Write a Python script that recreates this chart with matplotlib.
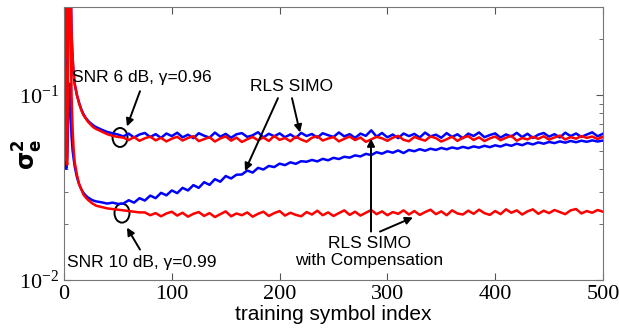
import matplotlib
matplotlib.use('Agg')
import matplotlib.pyplot as plt
import matplotlib.transforms as mtransforms
from matplotlib.patches import Ellipse
from matplotlib.ticker import LogLocator, NullFormatter

# eixo de símbolos de treino
x_idx = [0, 1, 2, 3, 4, 5, 6, 7, 8, 9, 10, 12, 14, 16, 18, 20, 22, 24, 26, 28, 30,
         35, 40, 45, 50, 55, 60, 65, 70, 75, 80, 85, 90, 95, 100,
         105, 110, 115, 120, 125, 130, 135, 140, 145, 150, 155, 160, 165, 170, 175, 180,
         185, 190, 195, 200, 205, 210, 215, 220, 225, 230, 235, 240, 245, 250,
         255, 260, 265, 270, 275, 280, 285, 290, 295, 300, 305, 310, 315, 320, 325, 330,
         335, 340, 345, 350, 355, 360, 365, 370, 375, 380, 385, 390, 395, 400,
         405, 410, 415, 420, 425, 430, 435, 440, 445, 450, 455, 460, 465, 470, 475, 480,
         485, 490, 495, 500]

# SNR 6 dB - RLS SIMO (azul)
snr6_simo = [1.8, 0.5, 0.14, 0.18, 0.5, 1.2, 0.45, 0.21, 0.155, 0.128, 0.114,
             0.100, 0.091, 0.084, 0.079, 0.0755, 0.073, 0.071, 0.0695, 0.068, 0.067,
             0.065, 0.0632, 0.0622, 0.0612,
             0.0598, 0.0619, 0.0590, 0.0612, 0.0624, 0.0593, 0.0615, 0.0587, 0.0620, 0.0600,
             0.0626, 0.0591, 0.0611, 0.0585, 0.0622, 0.0603, 0.0589, 0.0627, 0.0596, 0.0617,
             0.0588, 0.0614, 0.0623, 0.0594, 0.0606, 0.0630, 0.0590, 0.0618, 0.0599, 0.0621,
             0.0592, 0.0613, 0.0586, 0.0625, 0.0601, 0.0616, 0.0589, 0.0622, 0.0607, 0.0594,
             0.0628, 0.0598, 0.0615, 0.0587, 0.0619, 0.0602, 0.0645, 0.0596, 0.0624, 0.0591,
             0.0612, 0.0585, 0.0620, 0.0600, 0.0617, 0.0590, 0.0627, 0.0598, 0.0611, 0.0588,
             0.0623, 0.0594, 0.0614, 0.0584, 0.0619, 0.0601, 0.0628, 0.0592, 0.0608, 0.0621,
             0.0589, 0.0613, 0.0597, 0.0625, 0.0593, 0.0618, 0.0586, 0.0611, 0.0624, 0.0596,
             0.0615, 0.0590, 0.0626, 0.0600, 0.0620, 0.0594, 0.0612, 0.0629, 0.0599, 0.0618]

# SNR 6 dB - RLS SIMO com compensação (vermelho)
snr6_comp = [2.0, 0.6, 0.16, 0.2, 0.6, 1.5, 0.5, 0.22, 0.16, 0.13, 0.115,
             0.100, 0.090, 0.083, 0.078, 0.075, 0.072, 0.070, 0.068, 0.0665, 0.0655,
             0.0635, 0.0615, 0.0602, 0.0594,
             0.0589, 0.0571, 0.0593, 0.0566, 0.0584, 0.0597, 0.0569, 0.0587, 0.0562, 0.0581,
             0.0595, 0.0568, 0.0586, 0.0600, 0.0564, 0.0578, 0.0592, 0.0561, 0.0583, 0.0598,
             0.0567, 0.0589, 0.0558, 0.0577, 0.0594, 0.0570, 0.0590, 0.0565, 0.0601, 0.0573,
             0.0586, 0.0563, 0.0596, 0.0575, 0.0560, 0.0588, 0.0599, 0.0568, 0.0582, 0.0593,
             0.0562, 0.0580, 0.0597, 0.0571, 0.0590, 0.0559, 0.0576, 0.0595, 0.0584, 0.0566,
             0.0588, 0.0602, 0.0573, 0.0563, 0.0594, 0.0579, 0.0567, 0.0598, 0.0585, 0.0561,
             0.0577, 0.0596, 0.0565, 0.0589, 0.0600, 0.0572, 0.0591, 0.0564, 0.0583, 0.0597,
             0.0570, 0.0588, 0.0603, 0.0567, 0.0586, 0.0576, 0.0595, 0.0580, 0.0599, 0.0574,
             0.0590, 0.0604, 0.0575, 0.0593, 0.0581, 0.0601, 0.0587, 0.0597, 0.0579, 0.0594]

# SNR 10 dB - RLS SIMO (azul)
snr10_simo = [0.100, 0.060, 0.040, 0.046, 0.080, 0.115, 0.085, 0.060, 0.050, 0.045, 0.041,
              0.036, 0.033, 0.031, 0.0296, 0.0287, 0.0280, 0.0275, 0.0271, 0.0268, 0.0266,
              0.0263, 0.0259, 0.0262, 0.0258,
              0.0259, 0.0270, 0.0262, 0.0277, 0.0269, 0.0286, 0.0277, 0.0296, 0.0287, 0.0305,
              0.0295, 0.0315, 0.0305, 0.0326, 0.0315, 0.0338, 0.0327, 0.0351, 0.0340, 0.0365,
              0.0354, 0.0371, 0.0372, 0.0391, 0.0381, 0.0404, 0.0396, 0.0414, 0.0408, 0.0426,
              0.0418, 0.0433, 0.0425, 0.0439, 0.0436, 0.0446, 0.0438, 0.0452, 0.0444, 0.0458,
              0.0451, 0.0464, 0.0459, 0.0472, 0.0466, 0.0481, 0.0474, 0.0491, 0.0482, 0.0497,
              0.0488, 0.0502, 0.0486, 0.0505, 0.0497, 0.0510, 0.0500, 0.0513, 0.0505, 0.0518,
              0.0509, 0.0521, 0.0513, 0.0525, 0.0516, 0.0528, 0.0520, 0.0532, 0.0523, 0.0535,
              0.0527, 0.0541, 0.0532, 0.0546, 0.0536, 0.0551, 0.0541, 0.0555, 0.0546, 0.0558,
              0.0550, 0.0562, 0.0553, 0.0565, 0.0556, 0.0567, 0.0559, 0.0569, 0.0561, 0.0568]

# SNR 10 dB - RLS SIMO com compensação (vermelho)
snr10_comp = [1.5, 0.3, 0.045, 0.042, 0.2, 0.8, 0.3, 0.1, 0.065, 0.05, 0.043,
              0.037, 0.033, 0.031, 0.029, 0.028, 0.0272, 0.0266, 0.026, 0.0256, 0.0252,
              0.0248, 0.0244, 0.0242, 0.0240, 0.0238, 0.0236, 0.0234, 0.0232,
              0.0232, 0.0224, 0.0230, 0.0221, 0.0229, 0.0234, 0.0223, 0.0231, 0.0220, 0.0228,
              0.0233, 0.0222, 0.0230, 0.0219, 0.0227, 0.0235, 0.0221, 0.0229, 0.0224, 0.0232,
              0.0220, 0.0228, 0.0234, 0.0222, 0.0230, 0.0236, 0.0223, 0.0231, 0.0225, 0.0221,
              0.0233, 0.0226, 0.0237, 0.0224, 0.0232, 0.0222, 0.0230, 0.0238, 0.0225, 0.0234,
              0.0223, 0.0231, 0.0239, 0.0227, 0.0235, 0.0224, 0.0233, 0.0228, 0.0238, 0.0226,
              0.0236, 0.0225, 0.0233, 0.0240, 0.0227, 0.0235, 0.0224, 0.0238, 0.0229, 0.0226,
              0.0237, 0.0228, 0.0240, 0.0230, 0.0225, 0.0236, 0.0227, 0.0241, 0.0231, 0.0238,
              0.0226, 0.0235, 0.0241, 0.0228, 0.0237, 0.0230, 0.0239, 0.0233, 0.0227, 0.0238,
              0.0242, 0.0229, 0.0236, 0.0231, 0.0239, 0.0234]

x_ticks = [0, 100, 200, 300, 400, 500]

plt.rcParams['mathtext.fontset'] = 'dejavusans'

fig = plt.figure(figsize=(6.19, 3.29), dpi=100)
ax = fig.add_axes([0.1034, 0.149, 0.8707, 0.830])

ax.plot(x_idx, snr6_simo, color='#0000ff', lw=1.8)
ax.plot(x_idx, snr10_simo, color='#0000ff', lw=1.8)
ax.plot(x_idx, snr6_comp, color='#ff0000', lw=1.8)
ax.plot(x_idx, snr10_comp, color='#ff0000', lw=1.8)

ax.set_yscale('log')
ax.set_xlim(0, 500)
ax.set_ylim(0.01, 0.3)
ax.set_xticks(x_ticks)
ax.yaxis.set_minor_locator(LogLocator(base=10, subs=range(2, 10)))
ax.yaxis.set_minor_formatter(NullFormatter())

ax.tick_params(which='both', direction='in', top=True, right=True, colors='#555555')
ax.tick_params(which='major', length=5, labelsize=16, labelcolor='black')
ax.tick_params(which='minor', length=3)
for lab in ax.get_xticklabels() + ax.get_yticklabels():
    lab.set_fontfamily('Liberation Serif')
for sp in ax.spines.values():
    sp.set_color('#777777')
    sp.set_linewidth(0.8)

ax.set_xlabel('training symbol index', fontsize=15, family='Liberation Sans', labelpad=1)
ax.set_ylabel(r'$\mathbf{\sigma_e^2}$', fontsize=17)
ax.yaxis.set_label_coords(-0.036, 0.46)

# anotações
txt = dict(fontsize=12.5, family='Liberation Sans')
ax.text(7.4, 0.1238, 'SNR 6 dB, γ=0.96', ha='left', va='center', **txt)
ax.text(2.8, 0.01239, 'SNR 10 dB, γ=0.99', ha='left', va='center', **txt)
ax.text(210.6, 0.112, 'RLS SIMO', ha='center', va='center', **txt)
ax.text(283, 0.01422, 'RLS SIMO\nwith Compensation', ha='center', va='center',
        linespacing=1.15, **txt)

arr = dict(arrowstyle='-|>', color='k', lw=1.4, mutation_scale=11, shrinkA=0, shrinkB=0)
ax.annotate('', xy=(58.4, 0.0677), xytext=(70.5, 0.105), arrowprops=arr)
ax.annotate('', xy=(58.4, 0.0192), xytext=(70.5, 0.0146), arrowprops=arr)
ax.annotate('', xy=(167.9, 0.0389), xytext=(198.5, 0.0963), arrowprops=arr)
ax.annotate('', xy=(218.9, 0.0628), xytext=(211.5, 0.0963), arrowprops=arr)
ax.annotate('', xy=(284.8, 0.0582), xytext=(284.8, 0.01827), arrowprops=arr)
ax.annotate('', xy=(323.7, 0.0218), xytext=(293.1, 0.01827), arrowprops=arr)

# elipses em torno das curvas
for xc, yc in [(52, 0.0590), (53.8, 0.0230)]:
    tr = fig.dpi_scale_trans + mtransforms.ScaledTranslation(xc, yc, ax.transData)
    ax.add_patch(Ellipse((0, 0), width=0.15, height=0.19, transform=tr,
                         fill=False, edgecolor='k', lw=1.4, clip_on=False))

fig.savefig('out.png', dpi=100)
